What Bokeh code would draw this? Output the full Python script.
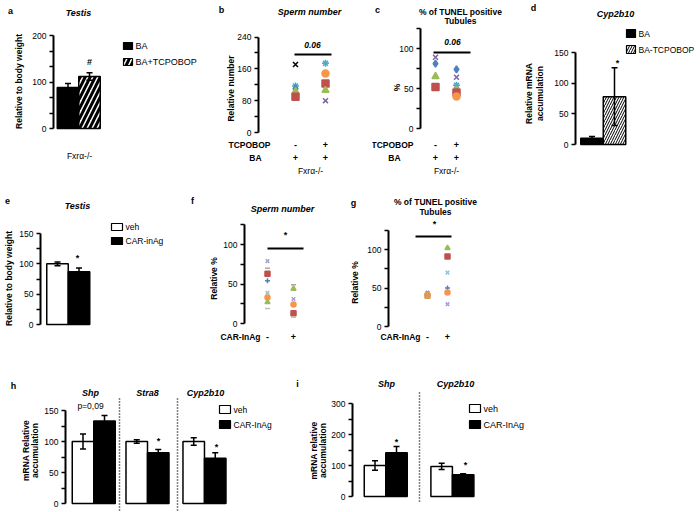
import math
from bokeh.plotting import figure
from bokeh.models import (Range1d, LinearAxis, FixedTicker, Label, Whisker, TeeHead,
                          ColumnDataSource)
from bokeh.layouts import column, row
from bokeh.embed import file_html
from bokeh.resources import INLINE

FONT = "Liberation Sans"

# ---------------- data ----------------
BLUE, RED, GREEN, PURPLE, AQUA, ORANGE = "#4F81BD", "#C0504D", "#9BBB59", "#8064A2", "#4BACC6", "#F79646"

# a: Testis weight, Fxra-/- mice
a_series = ["BA", "BA+TCPOBOP"]
a_values = [88, 112]
a_errors = [9, 8]

# b: Sperm number (relative number)
b_minus_values = [171, 117, 110, 103, 90]
b_minus_markers = ["x", "asterisk", "diamond", "triangle", "square"]
b_minus_colors = ["#000000", AQUA, BLUE, GREEN, RED]
b_plus_values = [174, 148, 123, 106, 80]
b_plus_markers = ["asterisk", "circle", "square", "triangle", "x"]
b_plus_colors = [AQUA, ORANGE, RED, GREEN, PURPLE]
b_p = "0.06"

# c: % of TUNEL positive tubules
c_minus_values = [89, 81, 65, 52]
c_minus_markers = ["x", "diamond", "triangle", "square"]
c_minus_colors = [PURPLE, BLUE, GREEN, RED]
c_plus_values = [74, 64, 54, 48, 45, 40]
c_plus_markers = ["diamond", "x", "asterisk", "triangle", "square", "circle"]
c_plus_colors = [BLUE, PURPLE, AQUA, GREEN, RED, ORANGE]
c_p = "0.06"

# d: Cyp2b10 relative mRNA accumulation
d_series = ["BA", "BA-TCPOBOP"]
d_values = [10, 78]
d_errors = [3, 47]

# e: Testis weight, CAR-inAg
e_series = ["veh", "CAR-inAg"]
e_values = [100, 87]
e_errors = [3, 6]

# f: Sperm number (relative %)
f_minus_values = [79, 70, 63, 54, 39, 33, 27, 19]
f_minus_markers = ["x", "dash", "square", "cross", "x", "circle", "triangle", "dash"]
f_minus_colors = ["#A3A0D6", "#A6A6A6", RED, BLUE, "#8EC3DB", ORANGE, GREEN, "#BDBDBD"]
f_plus_values = [49, 44, 31, 24, 13, 8]
f_plus_markers = ["dash", "triangle", "x", "circle", "square", "dash"]
f_plus_colors = ["#A6A6A6", GREEN, "#A3A0D6", ORANGE, RED, "#BDBDBD"]

# g: % of TUNEL positive tubules (relative %)
g_minus_values = [44, 42, 41, 40]
g_minus_markers = ["x", "triangle", "circle", "square"]
g_minus_colors = ["#6A8FC8", GREEN, ORANGE, "#D99A5B"]
g_plus_values = [102, 91, 70, 50, 44, 29]
g_plus_markers = ["triangle", "square", "x", "cross", "circle", "x"]
g_plus_colors = [GREEN, RED, "#8EC3DB", BLUE, ORANGE, "#A3A0D6"]

# h: mRNA relative accumulation (testis)
h_genes = ["Shp", "Stra8", "Cyp2b10"]
h_series = ["veh", "CAR-InAg"]
h_veh = [100, 100, 100]
h_veh_err = [12, 3, 6]
h_car = [133, 82, 73]
h_car_err = [9, 5, 9]

# i: mRNA relative accumulation (liver)
i_genes = ["Shp", "Cyp2b10"]
i_series = ["veh", "CAR-InAg"]
i_veh = [100, 97]
i_veh_err = [15, 10]
i_car = [141, 70]
i_car_err = [20, 3]

BLACK_STYLE = dict(fill_color="black")
WHITE_STYLE = dict(fill_color="white")


def hatch_style(scale, weight):
    return dict(fill_color="white", hatch_pattern="/", hatch_color="black",
                hatch_scale=scale, hatch_weight=weight)


# ---------------- helpers ----------------
class Panel:
    def __init__(self, ox, oy, w, h, xa, xb, ya, yb):
        self.ox, self.oy, self.w, self.h = ox, oy, w, h
        self.xa, self.ya = xa, ya
        self.sx = (xb[1] - xa[1]) / (xb[0] - xa[0])
        self.sy = (yb[1] - ya[1]) / (ya[0] - yb[0])
        self.p = figure(width=w, height=h,
                        x_range=Range1d(self.X(ox), self.X(ox + w)),
                        y_range=Range1d(self.Y(oy + h), self.Y(oy)),
                        output_backend="svg", toolbar_location=None,
                        x_axis_type=None, y_axis_type=None, min_border=0,
                        outline_line_color=None, background_fill_color="white",
                        border_fill_color="white")

    def X(self, px):
        return self.xa[1] + (px - self.xa[0]) * self.sx

    def Y(self, py):
        return self.ya[1] + (self.ya[0] - py) * self.sy

    def text(self, px, py, t, size=8.5, style="normal", align="center", angle=0.0):
        self.p.add_layout(Label(x=self.X(px), y=self.Y(py), text=t, text_font=FONT,
                                text_font_size=f"{size}px", text_font_style=style,
                                text_align=align, text_baseline="middle", angle=angle,
                                text_color="black"))

    def vtext(self, px, py, t, size=8.5):
        self.text(px, py, t, size, "bold", "center", math.pi / 2)

    def yaxis(self, px, top, ticks, minor):
        ax = LinearAxis(fixed_location=self.X(px), bounds=(0, top),
                        ticker=FixedTicker(ticks=ticks, minor_ticks=minor),
                        axis_line_width=2, axis_line_color="black",
                        major_tick_in=0, major_tick_out=4, major_tick_line_width=1.5,
                        minor_tick_in=0, minor_tick_out=4, minor_tick_line_width=1.5,
                        major_label_standoff=3,
                        major_label_text_font=FONT, major_label_text_font_size="8.5px",
                        major_label_text_color="black")
        self.p.add_layout(ax, "left")

    def hline(self, px0, px1, py, width=2.0):
        self.p.segment(x0=[self.X(px0)], y0=[self.Y(py)], x1=[self.X(px1)], y1=[self.Y(py)],
                       line_color="black", line_width=width)

    def vdots(self, px, py0, py1):
        self.p.segment(x0=[self.X(px)], y0=[self.Y(py0)], x1=[self.X(px)], y1=[self.Y(py1)],
                       line_color="black", line_width=1.5, line_dash="1 2")

    def bars(self, xs, tops, errs, style):
        src = ColumnDataSource(dict(x=xs, top=tops,
                                    upper=[t + e for t, e in zip(tops, errs)],
                                    lower=[t - e for t, e in zip(tops, errs)]))
        self.p.vbar(x="x", top="top", bottom=0, width=1.0, source=src,
                    line_color="black", line_width=1.5, **style)
        self.p.add_layout(Whisker(source=src, base="x", upper="upper", lower="lower",
                                  level="overlay", line_color="black", line_width=1.5,
                                  upper_head=TeeHead(size=6, line_color="black", line_width=1.5),
                                  lower_head=TeeHead(size=6, line_color="black", line_width=1.5)))

    def points(self, xpos, values, markers, colors, size):
        src = ColumnDataSource(dict(x=[xpos] * len(values), y=values, marker=markers, color=colors))
        self.p.scatter(x="x", y="y", marker="marker", fill_color="color", line_color="color",
                       size=size, line_width=1.5, source=src)

    def legend(self, entries, left_px, top_px, pitch, gw, gh, size=8.5):
        for k, (label, style) in enumerate(entries):
            t = top_px + k * pitch
            self.p.quad(left=[self.X(left_px)], right=[self.X(left_px + gw)],
                        top=[self.Y(t)], bottom=[self.Y(t + gh)],
                        line_color="black", line_width=1.2, **style)
            self.text(left_px + gw + 3, t + gh / 2, label, size, "normal", "left")


# ---------------- panel a ----------------
A = Panel(0, 0, 215, 178, (67.5, 1), (89, 2), (128, 0), (35, 200))
A.yaxis(53, 200, [0, 100, 200], [200 / 6, 400 / 6, 800 / 6, 1000 / 6])
A.bars([1], a_values[:1], a_errors[:1], BLACK_STYLE)
A.bars([2], a_values[1:], a_errors[1:], hatch_style(10, 3.0))
A.text(10, 10, "a", 9, "bold")
A.text(78, 12, "Testis", 9, "bold italic")
A.vtext(18, 81, "Relative to body weight")
A.text(89, 61, "#", 9, "bold")
A.text(79, 155, "Fxrα-/-", 8.5)
A.legend([(a_series[0], BLACK_STYLE), (a_series[1], hatch_style(10, 3.0))], 123, 42, 16, 9, 7, 9)

# ---------------- panel b ----------------
B = Panel(215, 0, 157, 178, (295, 1), (325, 2), (132, 0), (36.5, 240))
B.yaxis(258, 240, [0, 80, 160, 240], [40, 120, 200])
B.points(1, b_minus_values, b_minus_markers, b_minus_colors, 7)
B.points(2, b_plus_values, b_plus_markers, b_plus_colors, 7)
B.hline(294, 331, 54)
B.text(312, 44, b_p, 8.5, "bold italic")
B.text(221, 9, "b", 9, "bold")
B.text(309, 11, "Sperm number", 9, "bold italic")
B.vtext(230, 88, "Relative number")
B.text(249, 144, "TCPOBOP", 8.5, "bold")
B.text(255, 157, "BA", 8.5, "bold")
for px, s1, s2 in [(295, "-", "+"), (325, "+", "+")]:
    B.text(px, 144, s1, 9, "bold")
    B.text(px, 157, s2, 9, "bold")
B.text(310, 170, "Fxrα-/-", 8.5)

# ---------------- panel c ----------------
C = Panel(372, 0, 148, 178, (435, 1), (456, 2), (128, 0), (48, 100))
C.yaxis(420, 125, [0, 50, 100], [25, 75, 125])
C.points(1, c_minus_values, c_minus_markers, c_minus_colors, 7)
C.points(2, c_plus_values, c_plus_markers, c_plus_colors, 7)
C.hline(433, 470, 52)
C.text(452, 41, c_p, 8.5, "bold italic")
C.text(377, 9, "c", 9, "bold")
C.text(460, 11, "% of TUNEL positive", 8.5, "bold")
C.text(460, 20, "Tubules", 8.5, "bold")
C.vtext(396, 87, "%")
C.text(392, 144, "TCPOBOP", 8.5, "bold")
C.text(394, 157, "BA", 8.5, "bold")
for px, s1, s2 in [(435, "-", "+"), (456, "+", "+")]:
    C.text(px, 144, s1, 9, "bold")
    C.text(px, 157, s2, 9, "bold")
C.text(446, 170, "Fxrα-/-", 8.5)

# ---------------- panel d ----------------
D = Panel(520, 0, 180, 178, (591.5, 1), (614, 2), (144, 0), (52, 150))
D.yaxis(575, 150, [0, 50, 100, 150], [])
D.bars([1], d_values[:1], d_errors[:1], BLACK_STYLE)
D.bars([2], d_values[1:], d_errors[1:], hatch_style(5, 1.0))
D.text(533, 7, "d", 9, "bold")
D.text(615, 13, "Cyp2b10", 9, "bold italic")
D.text(617, 62, "*", 9, "bold")
D.vtext(528, 93, "Relative mRNA")
D.vtext(539, 93, "accumulation")
D.legend([(d_series[0], BLACK_STYLE), (d_series[1], hatch_style(5, 1.0))], 626, 29, 16, 9, 8, 8.5)

# ---------------- panel e ----------------
E = Panel(0, 178, 185, 164, (57, 1), (78.5, 2), (324, 0), (233, 150))
E.yaxis(40, 150, [0, 50, 100, 150], [25, 75, 125])
E.bars([1], e_values[:1], e_errors[:1], WHITE_STYLE)
E.bars([2], e_values[1:], e_errors[1:], BLACK_STYLE)
E.text(7, 200, "e", 9, "bold")
E.text(77, 205, "Testis", 9, "bold italic")
E.text(77, 257, "*", 9, "bold")
E.vtext(8, 278, "Relative to body weight")
E.legend([(e_series[0], WHITE_STYLE), (e_series[1], BLACK_STYLE)], 111, 223, 14, 11, 7, 8.5)

# ---------------- panel f ----------------
F = Panel(185, 178, 155, 164, (267, 1), (293, 2), (323, 0), (244, 100))
F.yaxis(244, 125, [0, 50, 100], [25, 75, 125])
F.points(1, f_minus_values, f_minus_markers, f_minus_colors, 5)
F.points(2, f_plus_values, f_plus_markers, f_plus_colors, 5)
F.hline(267, 303, 248)
F.text(285, 234, "*", 9, "bold")
F.text(192, 200, "f", 9, "bold")
F.text(282, 208, "Sperm number", 9, "bold italic")
F.vtext(213, 278, "Relative %")
F.text(240, 336, "CAR-InAg", 8.5, "bold")
F.text(267, 336, "-", 9, "bold")
F.text(293, 336, "+", 9, "bold")

# ---------------- panel g ----------------
G = Panel(340, 178, 360, 164, (427, 1), (447, 2), (326, 0), (249, 100))
G.yaxis(388, 125, [0, 50, 100], [25, 75, 125])
G.points(1, g_minus_values, g_minus_markers, g_minus_colors, 5)
G.points(2, g_plus_values, g_plus_markers, g_plus_colors, 5)
G.hline(415, 451, 236)
G.text(434, 223, "*", 9, "bold")
G.text(353, 202, "g", 9, "bold")
G.text(435, 201, "% of TUNEL positive", 8.5, "bold")
G.text(435, 211, "Tubules", 8.5, "bold")
G.vtext(354, 282, "Relative %")
G.text(400, 336, "CAR-InAg", 8.5, "bold")
G.text(427, 336, "-", 9, "bold")
G.text(447, 336, "+", 9, "bold")

# ---------------- panel h ----------------
H = Panel(0, 342, 290, 170, (82.5, 1), (104, 2), (503, 0), (410, 150))
H.yaxis(65, 150, [0, 50, 100, 150], [25, 75, 125])
H.bars([1, 3.5, 6.15], h_veh, h_veh_err, WHITE_STYLE)
H.bars([2, 4.5, 7.15], h_car, h_car_err, BLACK_STYLE)
H.vdots(119, 398, 510)
H.vdots(177, 398, 510)
for px, g in zip([90, 147, 205], h_genes):
    H.text(px, 392, g, 9, "bold italic")
H.text(90, 405, "p=0,09", 8.5)
H.text(158, 440, "*", 9, "bold")
H.text(216, 446, "*", 9, "bold")
H.text(13, 385, "h", 9, "bold")
H.vtext(25, 450, "mRNA Relative")
H.vtext(34, 450, "accumulation")
H.legend([(h_series[0], WHITE_STYLE), (h_series[1], BLACK_STYLE)], 219, 405, 15, 11, 8, 8.5)

# ---------------- panel i ----------------
I = Panel(290, 342, 410, 170, (374.5, 1), (396, 2), (496, 0), (403, 300))
I.yaxis(352, 300, [0, 100, 200, 300], [50, 150, 250])
I.bars([1, 4.1], i_veh, i_veh_err, WHITE_STYLE)
I.bars([2, 5.1], i_car, i_car_err, BLACK_STYLE)
I.vdots(419, 392, 503)
for px, g in zip([386, 455], i_genes):
    I.text(px, 383, g, 9, "bold italic")
I.text(396, 441, "*", 9, "bold")
I.text(465, 464, "*", 9, "bold")
I.text(297, 383, "i", 9, "bold")
I.vtext(313, 450, "mRNA relative")
I.vtext(322, 450, "accumulation")
I.legend([(i_series[0], WHITE_STYLE), (i_series[1], BLACK_STYLE)], 469, 404, 16, 11, 8, 9)

layout = column(row(A.p, B.p, C.p, D.p), row(E.p, F.p, G.p), row(H.p, I.p))
open("out.html", "w").write(file_html(layout, INLINE))
